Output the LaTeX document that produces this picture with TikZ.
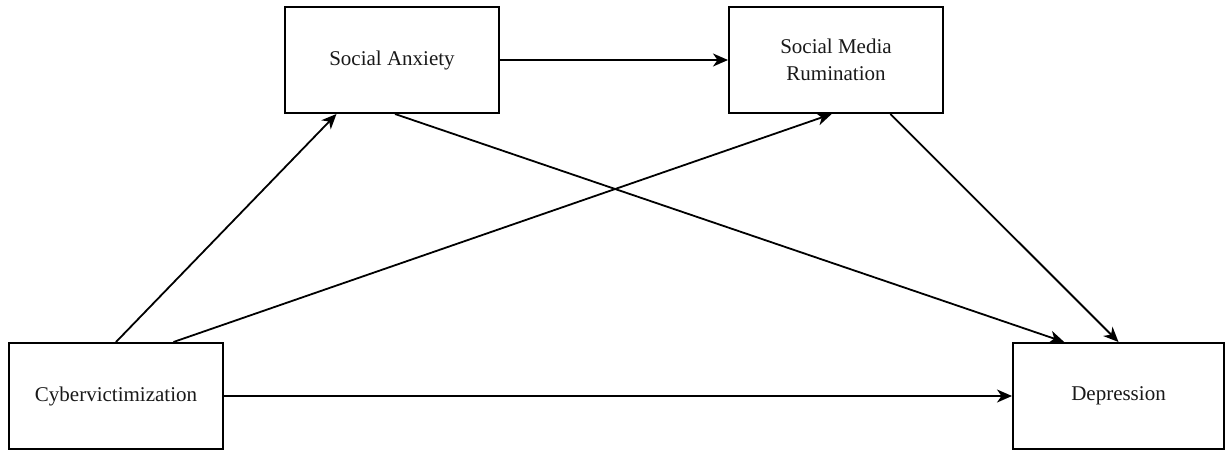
\documentclass[tikz,border=0pt]{standalone}
\usepackage{fontspec}
\setmainfont{Liberation Serif}
\usetikzlibrary{arrows.meta,calc}
\begin{document}
\begin{tikzpicture}[x=1pt,y=-1pt,
  var/.style={draw=black,line width=2pt,fill=white,minimum width=214pt,minimum height=106pt,
    inner sep=0pt,align=center,font=\fontsize{21}{27}\selectfont,text=black!90},
  link/.style={line width=1.8pt,draw=black,-{Stealth[length=15pt,width=13pt,inset=4.5pt]}}]
\useasboundingbox (0,0) rectangle (1225,451);
% variables
\node[var] (sa) at (392,60)  {Social Anxiety};
\node[var] (sm) at (836,60)  {Social Media\\Rumination};
\node[var] (cv) at (116,396) {Cybervictimization};
\node[var,minimum width=211pt] (dp) at (1118.5,396) {Depression};
% paths
\draw[link] (sa.east) -- (sm.west);
\draw[link] (cv.east) -- (dp.west);
\draw[link] (cv.north) -- ($(sa.south west)!0.243!(sa.south east)$);
\draw[link] ($(cv.north west)!0.766!(cv.north east)$) -- ($(sm.south west)!0.48!(sm.south east)$);
\draw[link] ($(sa.south west)!0.514!(sa.south east)$) -- ($(dp.north west)!0.245!(dp.north east)$);
\draw[link] ($(sm.south west)!0.752!(sm.south east)$) -- ($(dp.north west)!0.5!(dp.north east)$);
\end{tikzpicture}
\end{document}
